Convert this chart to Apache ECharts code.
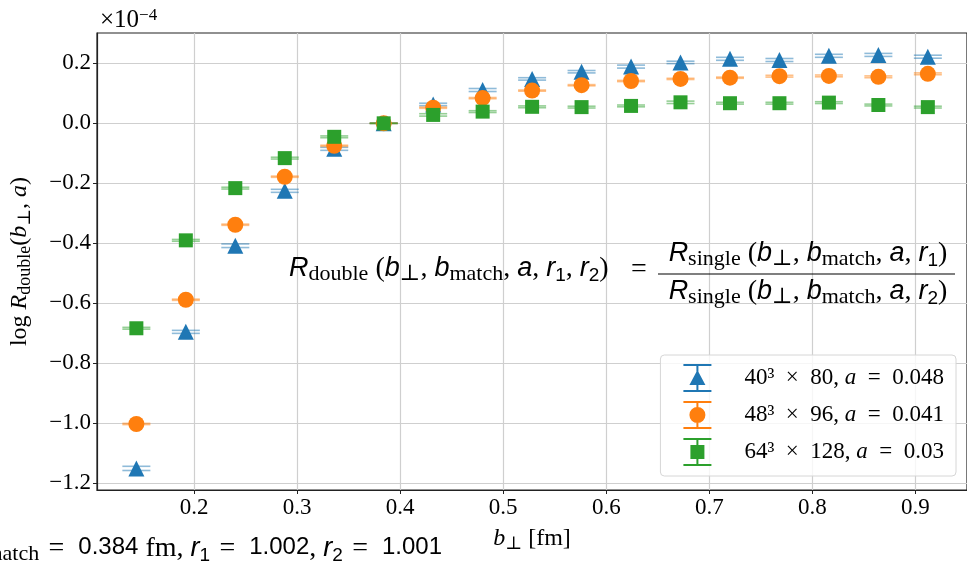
<!DOCTYPE html>
<html>
<head>
<meta charset="utf-8">
<script src="https://cdn.jsdelivr.net/npm/echarts@6/dist/echarts.min.js"></script>
<style>
  html, body { margin: 0; padding: 0; background: #fff; }
  #chart { width: 967px; height: 563px; }
</style>
</head>
<body>
<div id="chart"></div>
<script>
// b_perp in fm (multiples of 0.048)
const bPerp = [0.144, 0.192, 0.240, 0.288, 0.336, 0.384, 0.432, 0.480, 0.528, 0.576, 0.624, 0.672, 0.720, 0.768, 0.816, 0.864, 0.912];

// log R_double, in units of 1e-4
const logR40 = [-1.150, -0.695, -0.408, -0.225, -0.085, 0.000, 0.063, 0.111, 0.148, 0.172, 0.189, 0.203, 0.215, 0.211, 0.225, 0.228, 0.222];
const logR48 = [-1.002, -0.588, -0.338, -0.178, -0.075, 0.000, 0.052, 0.084, 0.109, 0.127, 0.141, 0.148, 0.152, 0.157, 0.158, 0.155, 0.165];
const logR64 = [-0.683, -0.390, -0.216, -0.116, -0.045, 0.000, 0.028, 0.039, 0.055, 0.054, 0.058, 0.070, 0.067, 0.067, 0.069, 0.061, 0.054];

const err40 = [0.007, 0.005, 0.006, 0.005, 0.005, 0.000, 0.004, 0.005, 0.004, 0.004, 0.005, 0.004, 0.005, 0.005, 0.005, 0.005, 0.005];
const err48 = [0.002, 0.002, 0.002, 0.002, 0.002, 0.000, 0.002, 0.002, 0.002, 0.002, 0.002, 0.002, 0.002, 0.003, 0.003, 0.003, 0.003];
const err64 = [0.003, 0.003, 0.003, 0.003, 0.003, 0.000, 0.004, 0.003, 0.003, 0.003, 0.003, 0.004, 0.003, 0.003, 0.003, 0.003, 0.003];

const lattices = ['40³ × 80', '48³ × 96', '64³ × 128'];
const spacings = ['0.048', '0.041', '0.03'];

const xTicks = [0.2, 0.3, 0.4, 0.5, 0.6, 0.7, 0.8, 0.9];
const yTicks = [-1.2, -1.0, -0.8, -0.6, -0.4, -0.2, 0.0, 0.2];

const colors = ['#1f77b4', '#ff7f0e', '#2ca02c'];
const symbols = ['triangle', 'circle', 'rect'];
const symbolSizes = [16, 16, 14];
const values = [logR40, logR48, logR64];
const errors = [err40, err48, err64];

const SERIF = "'Liberation Serif', 'DejaVu Serif', serif";
const SANS = "'Liberation Sans', 'DejaVu Sans', sans-serif";

// legend icons: error bar with caps + marker, 28x28 box
const icons = [
  'path://M0 0h28v2H0zM0 26h28v2H0zM13 0h2v28h-2zM14 6L22 21H6z',
  'path://M0 0h28v2H0zM0 26h28v2H0zM13 0h2v28h-2zM14 6a8 8 0 1 1 0 16a8 8 0 1 1 0 -16z',
  'path://M0 0h28v2H0zM0 26h28v2H0zM13 0h2v28h-2zM7 7h14v14H7z'
];

const names = lattices.map((l, i) => l + ', a = ' + spacings[i]);
const minus = v => v.toFixed(1).replace('-', '\u2212');

function errRender(color) {
  return function (params, api) {
    const x = api.value(0), y = api.value(1), e = api.value(2);
    const hi = api.coord([x, y + e]);
    const lo = api.coord([x, y - e]);
    const style = { stroke: color, lineWidth: 1.6, opacity: 0.5 };
    return {
      type: 'group',
      children: [
        { type: 'line', shape: { x1: hi[0], y1: hi[1], x2: lo[0], y2: lo[1] }, style },
        { type: 'line', shape: { x1: hi[0] - 14, y1: hi[1], x2: hi[0] + 14, y2: hi[1] }, style },
        { type: 'line', shape: { x1: lo[0] - 14, y1: lo[1], x2: lo[0] + 14, y2: lo[1] }, style }
      ]
    };
  };
}

const series = [];
values.forEach((vals, i) => {
  series.push({
    type: 'custom',
    renderItem: errRender(colors[i]),
    data: bPerp.map((b, j) => [b, vals[j], errors[i][j]]),
    silent: true
  });
  series.push({
    name: names[i],
    type: 'scatter',
    symbol: symbols[i],
    symbolSize: symbolSizes[i],
    itemStyle: { color: colors[i], opacity: 1 },
    data: bPerp.map((b, j) => [b, vals[j]])
  });
});

// rich styles for axis names
function axisRich(size) {
  return {
    n: { fontFamily: SERIF, fontSize: size, lineHeight: size + 2, verticalAlign: 'top', color: '#000' },
    i: { fontFamily: SERIF, fontSize: size, fontStyle: 'italic', lineHeight: size + 2, verticalAlign: 'top', color: '#000' },
    s: { fontFamily: SERIF, fontSize: size - 6, lineHeight: 14, verticalAlign: 'bottom', color: '#000' }
  };
}

// rich styles for the formula / footer
const fRich = {
  R: { fontFamily: SANS, fontStyle: 'italic', fontSize: 27, lineHeight: 30, verticalAlign: 'top', color: '#000' },
  v: { fontFamily: SANS, fontStyle: 'italic', fontSize: 27, lineHeight: 30, verticalAlign: 'top', color: '#000' },
  p: { fontFamily: SERIF, fontSize: 28, lineHeight: 30, verticalAlign: 'top', color: '#000' },
  s: { fontFamily: SERIF, fontSize: 22, lineHeight: 20, verticalAlign: 'bottom', color: '#000' },
  d: { fontFamily: SANS, fontSize: 19, lineHeight: 18, verticalAlign: 'bottom', color: '#000' },
  num: { fontFamily: SANS, fontSize: 24, lineHeight: 30, verticalAlign: 'top', color: '#000' }
};

const args = '{p| (}{v|b}{s|⊥}{p|, }{v|b}{s|match}{p|, }{v|a}{p|, }';
const leftText = '{R|R}{s|double}' + args + '{v|r}{d|1}{p|, }{v|r}{d|2}{p|)}';
const numText = '{R|R}{s|single}' + args + '{v|r}{d|1}{p|)}';
const denText = '{R|R}{s|single}' + args + '{v|r}{d|2}{p|)}';
const EQ = '{p|\u2004=\u2002}';
const footText = '{v|b}{s|match}' + EQ + '{num|0.384}{p| fm, }{v|r}{d|1}' + EQ + '{num|1.002}{p|, }{v|r}{d|2}' + EQ + '{num|1.001}';

function textEl(x, y, text, align) {
  return {
    type: 'text', x, y, z: 10,
    style: {
      text, rich: fRich,
      align, verticalAlign: 'middle',
      textAlign: align, textVerticalAlign: 'middle'
    }
  };
}

const chart = echarts.init(document.getElementById('chart'));
chart.setOption({
  animation: false,
  backgroundColor: '#fff',
  grid: {
    left: 97, top: 33, width: 872, height: 457,
    show: true, borderColor: '#222', borderWidth: 1.2, backgroundColor: 'transparent'
  },
  xAxis: {
    type: 'value', min: 0.1058, max: 0.95,
    axisLine: { show: true, onZero: false, lineStyle: { color: '#222', width: 1.2 } },
    axisTick: { show: true, length: 4, customValues: xTicks, lineStyle: { color: '#222' } },
    axisLabel: {
      customValues: xTicks, formatter: minus, margin: 6,
      fontFamily: SERIF, fontSize: 23, color: '#000'
    },
    splitLine: { show: true, lineStyle: { color: '#cfcfcf', width: 1.2 } },
    name: '{i|b}{s|⊥}{n| [fm]}',
    nameLocation: 'middle', nameGap: 37,
    nameTextStyle: { rich: axisRich(24) }
  },
  yAxis: {
    type: 'value', min: -1.222, max: 0.301,
    axisLine: { show: true, onZero: false, lineStyle: { color: '#222', width: 1.2 } },
    axisTick: { show: true, length: 4, customValues: yTicks, lineStyle: { color: '#222' } },
    axisLabel: {
      customValues: yTicks, formatter: minus, margin: 6,
      fontFamily: SERIF, fontSize: 23, color: '#000'
    },
    splitLine: { show: true, lineStyle: { color: '#cfcfcf', width: 1.2 } },
    name: '{n|log }{i|R}{s|double}{n|(}{i|b}{s|⊥}{n|, }{i|a}{n|)}',
    nameLocation: 'middle', nameGap: 63, nameRotate: 90,
    nameTextStyle: { rich: axisRich(24) }
  },
  legend: {
    orient: 'vertical',
    right: 11, top: 355,
    itemWidth: 28, itemHeight: 28, itemGap: 9,
    padding: [9, 12, 10, 23],
    backgroundColor: 'rgba(255,255,255,0.8)',
    borderColor: '#d6d6d6', borderWidth: 1, borderRadius: 4,
    data: names.map((n, i) => ({ name: n, icon: icons[i] })),
    formatter: name => {
      const k = names.indexOf(name);
      return '{n|' + lattices[k].replace(/ × /, '\u2002×\u2002') + ', }{i|a}{n|\u2002=\u2002' + spacings[k] + '}';
    },
    textStyle: {
      padding: [0, 0, 0, 28],
      rich: {
        n: { fontFamily: SERIF, fontSize: 23, color: '#000' },
        i: { fontFamily: SERIF, fontSize: 23, fontStyle: 'italic', color: '#000' }
      }
    }
  },
  graphic: [
    {
      type: 'text', x: 100, y: 20, z: 10,
      style: {
        text: '{n|×10}{e|\u22124}',
        rich: {
          n: { fontFamily: SERIF, fontSize: 25, lineHeight: 26, verticalAlign: 'bottom', color: '#000' },
          e: { fontFamily: SERIF, fontSize: 17, lineHeight: 14, verticalAlign: 'top', color: '#000' }
        },
        align: 'left', verticalAlign: 'middle', textAlign: 'left', textVerticalAlign: 'middle'
      }
    },
    textEl(289, 270, leftText, 'left'),
    textEl(639, 271, '{p|=}', 'center'),
    textEl(808, 255, numText, 'center'),
    textEl(808, 293, denText, 'center'),
    {
      type: 'line', z: 10,
      shape: { x1: 658, y1: 274, x2: 955, y2: 274 },
      style: { stroke: '#000', lineWidth: 1.2 }
    },
    textEl(442, 550, footText, 'right')
  ],
  series
});
</script>
</body>
</html>
